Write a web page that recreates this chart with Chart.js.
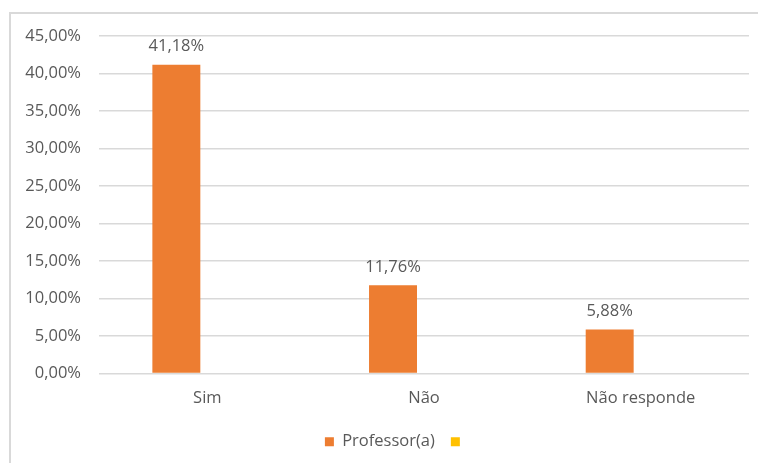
<!DOCTYPE html>
<html><head><meta charset="utf-8">
<script src="https://cdn.jsdelivr.net/npm/chart.js@4"></script>
<style>
html,body{margin:0;padding:0;background:#fff;}
#wrap{position:absolute;left:0;top:0;width:758px;height:463px;}
#frame{position:absolute;left:9px;top:12px;width:760px;height:460px;border:2px solid #d9d9d9;box-sizing:border-box;}
canvas{position:absolute;left:0;top:0;}
</style></head>
<body>
<div id="wrap"><div id="frame"></div><canvas id="c" width="758" height="463"></canvas></div>
<script>
const categories = ['Sim', 'Não', 'Não responde'];
const professorValues = [41.18, 11.76, 5.88];
const otherValues = [null, null, null];
const seriesLabels = ['Professor(a)', ''];
const yTicksMax = 45;
const yTicksStep = 5;

const fmt = v => v.toFixed(2).replace('.', ',') + '%';
const FONT = "'Open Sans', sans-serif";
const FS = 16.5;
const GREY = '#595959';

const dataLabels = {
  id: 'dataLabels',
  afterDatasetsDraw(chart) {
    const ctx = chart.ctx;
    ctx.save();
    ctx.font = FS + 'px ' + FONT;
    ctx.fillStyle = GREY;
    ctx.textAlign = 'center';
    ctx.textBaseline = 'bottom';
    const meta = chart.getDatasetMeta(0);
    meta.data.forEach((el, i) => {
      const v = chart.data.datasets[0].data[i];
      if (v == null) return;
      ctx.fillText(fmt(v), el.x, el.y - 10);
    });
    ctx.restore();
  }
};

const legendShift = {
  id: 'legendShift',
  afterLayout(chart) {
    if (chart.legend) { chart.legend.left += 22; chart.legend.right += 22; }
  }
};

new Chart(document.getElementById('c'), {
  type: 'bar',
  data: {
    labels: categories,
    datasets: [
      { label: seriesLabels[0], data: professorValues, backgroundColor: '#ed7d31', categoryPercentage: 0.572, barPercentage: 0.774 },
      { label: seriesLabels[1], data: otherValues, backgroundColor: '#ffc000', categoryPercentage: 0.572, barPercentage: 0.774 }
    ]
  },
  options: {
    responsive: false,
    animation: false,
    layout: { padding: { left: 0, right: 9, top: 36, bottom: 3 } },
    plugins: {
      legend: {
        position: 'bottom',
        labels: { boxWidth: 9, boxHeight: 9, color: GREY, font: { family: FONT, size: FS }, padding: 16 }
      },
      tooltip: { enabled: false }
    },
    scales: {
      x: {
        grid: { display: false },
        border: { display: false },
        ticks: { color: GREY, font: { family: FONT, size: FS }, padding: 7 },
        afterFit: s => { s.height = 44; }
      },
      y: {
        min: 0, max: yTicksMax,
        grid: { color: '#d9d9d9', lineWidth: 1.5, drawTicks: false },
        border: { display: false },
        ticks: { stepSize: yTicksStep, color: GREY, font: { family: FONT, size: FS }, padding: 18, callback: v => fmt(v) },
        afterFit: s => { s.width = 99; }
      }
    }
  },
  plugins: [dataLabels, legendShift]
});
</script>
</body></html>
